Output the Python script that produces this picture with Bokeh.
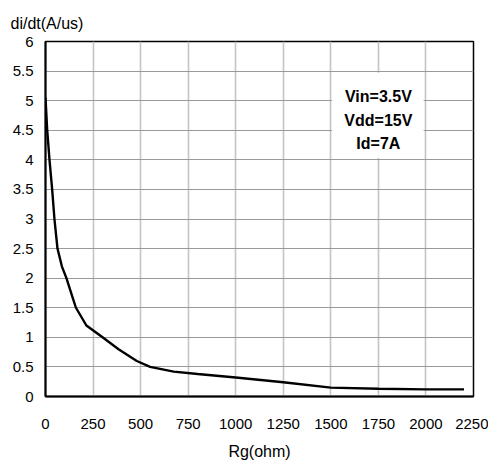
from bokeh.plotting import figure
from bokeh.models import FixedTicker, BoxAnnotation, Label, Range1d
from bokeh.embed import file_html
from bokeh.resources import INLINE

rg_ohm = [0, 9, 21, 35, 47, 63, 86, 110, 144, 160, 215, 300, 384, 480, 550, 674, 800, 1000, 1250, 1500, 1750, 2000, 2200]
didt = [5.05, 4.5, 4.0, 3.5, 3.0, 2.5, 2.2, 2.0, 1.66, 1.5, 1.2, 1.0, 0.8, 0.6, 0.5, 0.42, 0.38, 0.32, 0.24, 0.15, 0.13, 0.12, 0.12]

x_ticks = [0, 250, 500, 750, 1000, 1250, 1500, 1750, 2000, 2250]
x_tick_labels = ["0", "250", "500", "750", "1000", "1250", "1500", "1750", "2000", "2250"]
y_ticks = [0, 0.5, 1, 1.5, 2, 2.5, 3, 3.5, 4, 4.5, 5, 5.5, 6]
y_tick_labels = ["0", "0.5", "1", "1.5", "2", "2.5", "3", "3.5", "4", "4.5", "5", "5.5", "6"]
y_title = "di/dt(A/us)"
condition_text = "Vin=3.5V\nVdd=15V\nId=7A"

FONT = "Liberation Sans"

p = figure(width=488, height=462, output_backend="svg", toolbar_location=None,
           x_range=Range1d(0, 2250), y_range=Range1d(0, 6), title=y_title)
p.min_border_left = 45
p.min_border_right = 15
p.min_border_top = 41
p.min_border_bottom = 65

p.title.text_font = FONT
p.title.text_font_size = "16px"
p.title.text_font_style = "normal"
p.title.align = "left"
p.title.offset = -35
p.title.standoff = 20
p.title.text_color = "black"

p.outline_line_color = "black"
p.outline_line_width = 1.5
p.outline_line_alpha = 1

p.xaxis.ticker = FixedTicker(ticks=x_ticks)
p.yaxis.ticker = FixedTicker(ticks=y_ticks)
p.xaxis.major_label_overrides = {t: l for t, l in zip(x_ticks, x_tick_labels)}
p.yaxis.major_label_overrides = {t: l for t, l in zip(y_ticks, y_tick_labels)}

for ax in (p.xaxis, p.yaxis):
    ax.axis_line_color = "black"
    ax.axis_line_width = 2
    ax.major_tick_line_color = None
    ax.minor_tick_line_color = None
    ax.major_tick_out = 0
    ax.major_tick_in = 0
    ax.major_label_text_font = FONT
    ax.major_label_text_font_size = "15px"
    ax.major_label_text_color = "black"

p.xaxis.major_label_standoff = 22
p.yaxis.major_label_standoff = 12
p.xaxis.axis_label = "Rg(ohm)"
p.xaxis.axis_label_text_font = FONT
p.xaxis.axis_label_text_font_size = "16px"
p.xaxis.axis_label_text_font_style = "normal"
p.xaxis.axis_label_text_color = "black"
p.xaxis.axis_label_standoff = 11

p.xgrid.grid_line_color = "#c4c4c4"
p.xgrid.grid_line_width = 1.6
p.ygrid.grid_line_color = "#9a9a9a"
p.ygrid.grid_line_width = 1.2

p.add_layout(BoxAnnotation(left=1506, right=1988, bottom=4.03, top=5.47,
                           fill_color="white", fill_alpha=1, line_color=None))
p.add_layout(Label(x=1750, y=4.67, text=condition_text, text_align="center",
                   text_baseline="middle", text_font=FONT, text_font_size="16px",
                   text_font_style="bold", text_line_height=1.4, text_color="black"))

p.line(rg_ohm, didt, line_color="black", line_width=2.4)

open("out.html", "w").write(file_html(p, INLINE))
